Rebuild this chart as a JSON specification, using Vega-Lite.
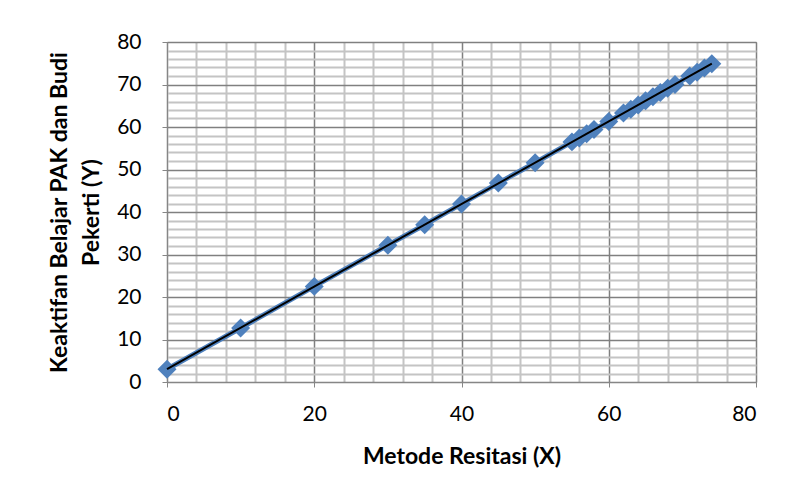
{
  "$schema": "https://vega.github.io/schema/vega-lite/v6.json",
  "width": 589,
  "height": 340,
  "autosize": "none",
  "padding": {"left": 167, "top": 42, "right": 34, "bottom": 116},
  "background": "white",
  "config": {
    "view": {"stroke": "#868686", "strokeWidth": 1},
    "font": "Lato",
    "axis": {"labelFont": "Lato", "titleFont": "Lato"}
  },
  "data": {
    "values": [
      {"x": 0, "y": 3.0},
      {"x": 10, "y": 12.7},
      {"x": 20, "y": 22.5},
      {"x": 30, "y": 32.2},
      {"x": 35, "y": 37.0},
      {"x": 40, "y": 41.9},
      {"x": 45, "y": 46.8},
      {"x": 50, "y": 51.6},
      {"x": 55, "y": 56.5},
      {"x": 56, "y": 57.4},
      {"x": 57, "y": 58.4},
      {"x": 58, "y": 59.4},
      {"x": 60, "y": 61.3},
      {"x": 62, "y": 63.3},
      {"x": 63, "y": 64.2},
      {"x": 64, "y": 65.2},
      {"x": 65, "y": 66.2},
      {"x": 66, "y": 67.1},
      {"x": 67, "y": 68.1},
      {"x": 68, "y": 69.1},
      {"x": 69, "y": 70.0},
      {"x": 71, "y": 72.0},
      {"x": 72, "y": 72.9},
      {"x": 73, "y": 73.9},
      {"x": 74, "y": 74.9}
    ]
  },
  "resolve": {"axis": {"x": "independent", "y": "independent"}},
  "layer": [
    {
      "mark": {"type": "line", "color": "#4F81BD", "strokeWidth": 5},
      "encoding": {
        "x": {
          "field": "x", "type": "quantitative",
          "scale": {"domain": [0, 80], "nice": false, "zero": false},
          "axis": {
            "orient": "bottom",
            "values": [4, 8, 12, 16, 24, 28, 32, 36, 44, 48, 52, 56, 64, 68, 72, 76],
            "grid": true, "gridColor": "#c4c4c4", "gridWidth": 2,
            "labels": false, "ticks": false, "domain": false, "title": null
          }
        },
        "y": {
          "field": "y", "type": "quantitative",
          "scale": {"domain": [0, 80], "nice": false, "zero": false},
          "axis": {
            "orient": "left",
            "values": [2, 4, 6, 8, 12, 14, 16, 18, 22, 24, 26, 28, 32, 34, 36, 38, 42, 44, 46, 48, 52, 54, 56, 58, 62, 64, 66, 68, 72, 74, 76, 78],
            "grid": true, "gridColor": "#c4c4c4", "gridWidth": 2,
            "labels": false, "ticks": false, "domain": false, "title": null
          }
        }
      }
    },
    {
      "mark": {"type": "point", "shape": "diamond", "filled": true, "color": "#4F81BD", "size": 360, "opacity": 1},
      "encoding": {
        "x": {
          "field": "x", "type": "quantitative",
          "axis": {
            "orient": "bottom",
            "values": [0, 20, 40, 60, 80],
            "grid": true, "gridColor": "#808080", "gridWidth": 1.5,
            "domain": true, "domainColor": "#868686",
            "ticks": true, "tickColor": "#868686", "tickSize": 5,
            "labelFontSize": 21, "labelColor": "#000000", "labelPadding": 16,
            "title": "Metode Resitasi (X)", "titleFontSize": 23, "titleFontWeight": "bold",
            "titleColor": "#000000", "titlePadding": 21
          }
        },
        "y": {
          "field": "y", "type": "quantitative",
          "axis": {
            "orient": "left",
            "values": [0, 10, 20, 30, 40, 50, 60, 70, 80],
            "grid": true, "gridColor": "#808080", "gridWidth": 1.5,
            "domain": true, "domainColor": "#868686",
            "ticks": true, "tickColor": "#868686", "tickSize": 5,
            "labelFontSize": 21, "labelColor": "#000000", "labelPadding": 21,
            "title": ["Keaktifan Belajar PAK dan Budi", "Pekerti  (Y)"],
            "titleFontSize": 23, "titleFontWeight": "bold", "titleColor": "#000000",
            "titleLineHeight": 32, "titlePadding": 13
          }
        }
      }
    },
    {
      "transform": [{"regression": "y", "on": "x"}],
      "mark": {"type": "line", "color": "#000000", "strokeWidth": 2},
      "encoding": {
        "x": {"field": "x", "type": "quantitative", "axis": null},
        "y": {"field": "y", "type": "quantitative", "axis": null}
      }
    }
  ]
}
